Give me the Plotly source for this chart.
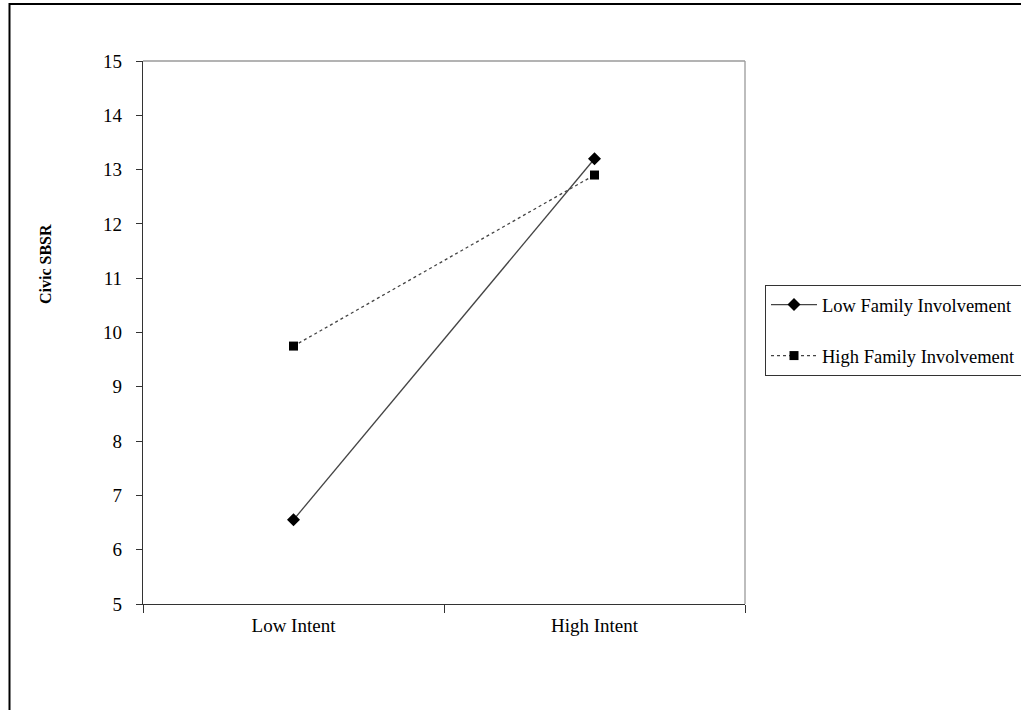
import plotly.graph_objects as go

categories = ["Low Intent", "High Intent"]
low_family = [6.55, 13.2]
high_family = [9.75, 12.9]
series_names = ["Low Family Involvement", "High Family Involvement"]
y_ticks = list(range(5, 16))
y_title = "Civic SBSR"

FONT = "Liberation Serif"

fig = go.Figure()
fig.add_trace(go.Scatter(
    x=categories, y=low_family, name=series_names[0], mode="lines+markers",
    line=dict(color="#444444", width=1.3),
    marker=dict(symbol="diamond", size=10, color="black"),
    legendgroup="a",
))
fig.add_trace(go.Scatter(
    x=categories, y=high_family, name=series_names[1], mode="lines+markers",
    line=dict(color="#444444", width=1.3, dash="dot"),
    marker=dict(symbol="square", size=9, color="black"),
    legendgroup="b",
))

L, R, T, B = 143, 745, 61, 604
W, H = 1021, 710
PW, PH = R - L, B - T

fig.update_layout(
    width=W, height=H,
    margin=dict(l=L, r=W - R, t=T, b=H - B, pad=0, autoexpand=False),
    paper_bgcolor="white", plot_bgcolor="white",
    font=dict(family=FONT, size=19, color="black"),
    showlegend=True,
    legend=dict(
        x=(765 - L) / PW, y=(B - 285) / PH, xanchor="left", yanchor="top",
        bordercolor="#333333", borderwidth=1, bgcolor="white",
        font=dict(family=FONT, size=18.5, color="black"),
        tracegroupgap=24, traceorder="grouped", itemwidth=46,
    ),
    xaxis=dict(
        type="category", range=[-0.5, 1.5], tickson="boundaries",
        ticks="outside", ticklen=8, tickwidth=1.3, tickcolor="#333333",
        showline=True, linecolor="#333333", linewidth=1.3,
        showgrid=False, zeroline=False, ticklabelstandoff=4,
        tickfont=dict(family=FONT, size=19),
    ),
    yaxis=dict(
        range=[5, 15], tickvals=y_ticks, ticks="outside", ticklen=6,
        tickwidth=1.3, tickcolor="#333333",
        showline=True, linecolor="#333333", linewidth=1.3,
        showgrid=False, zeroline=False, ticklabelstandoff=10,
        tickfont=dict(family=FONT, size=19),
    ),
)

fig.add_annotation(
    text="<b>" + y_title + "</b>", textangle=-90, showarrow=False,
    xref="paper", yref="paper", x=(45 - L) / PW, y=(B - 264) / PH,
    xanchor="center", yanchor="middle",
    font=dict(family=FONT, size=16, color="black"),
)

# plot area top and right border (light grey)
fig.add_shape(type="line", xref="paper", yref="paper", x0=0, x1=1, y0=1, y1=1,
              line=dict(color="#9a9a9a", width=1.3), layer="below")
fig.add_shape(type="line", xref="paper", yref="paper", x0=1, x1=1, y0=0, y1=1,
              line=dict(color="#9a9a9a", width=1.3), layer="below")

# outer chart frame
fig.add_shape(type="rect", xref="paper", yref="paper",
              x0=(9.5 - L) / PW, x1=(1100 - L) / PW,
              y0=(B - 790) / PH, y1=(B - 4) / PH,
              line=dict(color="black", width=2), layer="below")

fig.write_html("out.html", config={"displayModeBar": False},
               post_script="document.body.style.margin='0';")
